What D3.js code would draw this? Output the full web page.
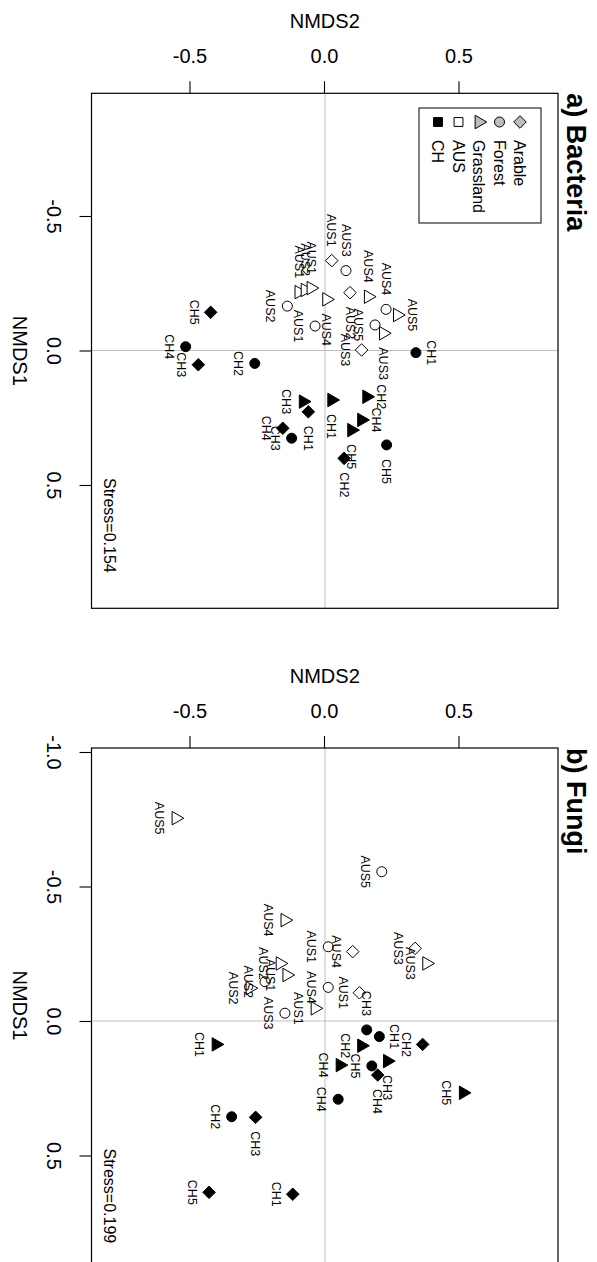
<!DOCTYPE html>
<html>
<head>
<meta charset="utf-8">
<script src="https://cdn.jsdelivr.net/npm/d3@7"></script>
<style>
  body { margin: 0; background: #fff; }
  svg { display: block; }
  text { font-family: "Liberation Sans", Arial, Helvetica, sans-serif; fill: #000; }
</style>
</head>
<body>
<svg id="chart" width="597" height="1262"></svg>
<script>
// ---- Bacteria ordination scores ----
const bacLand   = ["Arable","Arable","Arable","Forest","Forest","Forest","Forest","Forest",
                   "Grassland","Grassland","Grassland","Grassland","Grassland","Grassland","Grassland",
                   "Arable","Arable","Arable","Arable","Arable","Forest","Forest","Forest","Forest","Forest",
                   "Grassland","Grassland","Grassland","Grassland","Grassland"];
const bacRegion = ["AUS","AUS","AUS","AUS","AUS","AUS","AUS","AUS","AUS","AUS","AUS","AUS","AUS","AUS","AUS",
                   "CH","CH","CH","CH","CH","CH","CH","CH","CH","CH","CH","CH","CH","CH","CH"];
const bacSite   = ["AUS1","AUS2","AUS3","AUS1","AUS2","AUS3","AUS4","AUS5",
                   "AUS1","AUS2","AUS1","AUS4","AUS4","AUS5","AUS3",
                   "CH1","CH2","CH3","CH4","CH5","CH1","CH2","CH3","CH4","CH5",
                   "CH1","CH2","CH3","CH4","CH5"];
const bacNMDS1  = [-0.334,-0.215,-0.002,-0.091,-0.165,-0.297,-0.153,-0.095,
                   -0.217,-0.225,-0.232,-0.190,-0.200,-0.132,-0.064,
                    0.228, 0.401, 0.053, 0.289,-0.142, 0.008, 0.048, 0.326,-0.014, 0.351,
                    0.184, 0.172, 0.190, 0.258, 0.296];
const bacNMDS2  = [ 0.025, 0.093, 0.136,-0.037,-0.140, 0.078, 0.227, 0.186,
                   -0.097,-0.074,-0.052, 0.006, 0.161, 0.269, 0.217,
                   -0.062, 0.071,-0.471,-0.157,-0.425, 0.338,-0.261,-0.124,-0.518, 0.229,
                    0.025, 0.155,-0.081, 0.136, 0.099];
// side of each point its name is written on (1 below, 2 left, 3 above, 4 right)
const bacLabelPos = [2,4,1,1,1,2,2,1, 2,2,2,4,2,3,4, 4,4,1,1,1,3,1,1,1,4, 4,3,1,3,4];

// ---- Fungi ordination scores ----
const funLand   = ["Arable","Arable","Arable","Forest","Forest","Forest","Forest","Forest",
                   "Grassland","Grassland","Grassland","Grassland","Grassland","Grassland","Grassland",
                   "Arable","Arable","Arable","Arable","Arable","Forest","Forest","Forest","Forest","Forest",
                   "Grassland","Grassland","Grassland","Grassland","Grassland"];
const funRegion = bacRegion.slice();
const funSite   = ["AUS1","AUS3","AUS4","AUS1","AUS2","AUS3","AUS4","AUS5",
                   "AUS1","AUS2","AUS1","AUS2","AUS3","AUS4","AUS5",
                   "CH1","CH2","CH3","CH4","CH5","CH1","CH2","CH3","CH4","CH5",
                   "CH1","CH2","CH3","CH4","CH5"];
const funNMDS1  = [-0.105,-0.270,-0.258,-0.276,-0.146,-0.029,-0.125,-0.555,
                   -0.047,-0.214,-0.171,-0.122,-0.214,-0.375,-0.754,
                    0.644, 0.087, 0.358, 0.201, 0.637, 0.058, 0.356, 0.033, 0.291, 0.167,
                    0.087, 0.092, 0.149, 0.164, 0.267];
const funNMDS2  = [ 0.128, 0.335, 0.103, 0.012,-0.223,-0.149, 0.012, 0.211,
                   -0.037,-0.167,-0.142,-0.279, 0.378,-0.149,-0.554,
                   -0.120, 0.363,-0.258, 0.196,-0.431, 0.202,-0.347, 0.155, 0.049, 0.174,
                   -0.405, 0.136, 0.232, 0.056, 0.514];
const funLabelPos = [1,1,1,1,1,1,1,1, 1,1,1,1,1,1,1, 1,1,4,4,1,3,1,2,1,1, 1,1,4,1,1];

// ---- axes and legend ----
const nmds2Ticks = [-0.5, 0, 0.5];
const nmds2TickLabels = ["-0.5", "0.0", "0.5"];
const bacNmds1Ticks = [-0.5, 0, 0.5];
const bacNmds1TickLabels = ["-0.5", "0.0", "0.5"];
const funNmds1Ticks = [-1, -0.5, 0, 0.5];
const funNmds1TickLabels = ["-1.0", "-0.5", "0.0", "0.5"];
const landUses = ["Arable", "Forest", "Grassland"];
const regions = ["AUS", "CH"];

// ---- layout (landscape frame, turned a quarter clockwise on the page) ----
const pageW = 597, pageH = 1262;
const unit = 269;                  // pixels per NMDS unit on both axes
const plotW = 515;                 // length of the NMDS1 side of each box
const boxTop = 39, boxBottom = 505.5, nmds2Zero = 272;
const GREY = "#bebebe";
const font = '"Liberation Sans", Arial, Helvetica, sans-serif';

const svg = d3.select("#chart");
svg.append("rect").attr("width", pageW).attr("height", pageH).attr("fill", "#fff");
const root = svg.append("g").attr("transform", `translate(${pageW},0) rotate(90)`);

const panels = [
  { title: "a) Bacteria", stress: "Stress=0.154", left: 93.3, zero: 350.5,
    ticks1: bacNmds1Ticks, tickLabels1: bacNmds1TickLabels, legend: true,
    land: bacLand, region: bacRegion, site: bacSite, n1: bacNMDS1, n2: bacNMDS2, pos: bacLabelPos },
  { title: "b) Fungi", stress: "Stress=0.199", left: 748, zero: 1021,
    ticks1: funNmds1Ticks, tickLabels1: funNmds1TickLabels, legend: false,
    land: funLand, region: funRegion, site: funSite, n1: funNMDS1, n2: funNMDS2, pos: funLabelPos }
];

// R-style symbol outlines (circle 21, square 22, diamond 23, triangle 24), radius R
const R = 5;
function symbolPath(shape, cx, cy, r) {
  if (shape === "Forest") {
    return `M${cx + r},${cy}A${r},${r} 0 1,1 ${cx - r},${cy}A${r},${r} 0 1,1 ${cx + r},${cy}Z`;
  }
  if (shape === "Arable") {
    const d = 1.2533 * r;
    return `M${cx},${cy - d}L${cx + d},${cy}L${cx},${cy + d}L${cx - d},${cy}Z`;
  }
  if (shape === "Grassland") {
    const t = 1.5551 * r, h = 1.3468 * r, b = 0.7776 * r;
    return `M${cx},${cy - t}L${cx + h},${cy + b}L${cx - h},${cy + b}Z`;
  }
  const s = 0.886 * r;
  return `M${cx - s},${cy - s}H${cx + s}V${cy + s}H${cx - s}Z`;
}

panels.forEach(p => {
  const x = d3.scaleLinear()
    .domain([(p.left - p.zero) / unit, (p.left + plotW - p.zero) / unit])
    .range([p.left, p.left + plotW]);
  const y = d3.scaleLinear()
    .domain([(nmds2Zero - boxBottom) / unit, (nmds2Zero - boxTop) / unit])
    .range([boxBottom, boxTop]);
  const g = root.append("g");

  // zero reference lines
  g.append("line").attr("x1", x(0)).attr("x2", x(0)).attr("y1", boxTop).attr("y2", boxBottom)
    .attr("stroke", GREY).attr("stroke-width", 1);
  g.append("line").attr("x1", p.left).attr("x2", p.left + plotW).attr("y1", y(0)).attr("y2", y(0))
    .attr("stroke", GREY).attr("stroke-width", 1);

  // NMDS1 axis
  const ax1 = g.append("g").attr("transform", `translate(0,${boxBottom})`)
    .call(d3.axisBottom(x).tickValues(p.ticks1).tickFormat((d, i) => p.tickLabels1[i])
      .tickSize(12).tickPadding(18));
  ax1.select(".domain").remove();
  ax1.selectAll(".tick line").attr("stroke", "#000").attr("stroke-width", 1.1);
  ax1.selectAll(".tick text").attr("font-size", 20).attr("font-family", font);

  // NMDS2 axis
  const ax2 = g.append("g").attr("transform", `translate(${p.left},0)`)
    .call(d3.axisLeft(y).tickValues(nmds2Ticks).tickFormat((d, i) => nmds2TickLabels[i]).tickSize(12));
  ax2.select(".domain").remove();
  ax2.selectAll(".tick line").attr("stroke", "#000").attr("stroke-width", 1.1);
  ax2.selectAll(".tick text").attr("font-size", 20).attr("font-family", font)
    .attr("x", 0).attr("dy", "0.35em").attr("text-anchor", "middle")
    .attr("transform", "translate(-37,0) rotate(-90)");

  // axis titles
  g.append("text").attr("x", p.left + plotW / 2).attr("y", boxBottom + 72).attr("dy", "0.35em")
    .attr("text-anchor", "middle").attr("font-size", 20).text("NMDS1");
  g.append("text").attr("transform", `translate(${p.left - 72},${(boxTop + boxBottom) / 2}) rotate(-90)`)
    .attr("dy", "0.35em").attr("text-anchor", "middle").attr("font-size", 20).text("NMDS2");

  // panel title
  g.append("text").attr("x", p.left).attr("y", 30).attr("font-size", 27).attr("font-weight", "bold")
    .text(p.title);

  // points
  const idx = d3.range(p.n1.length);
  g.append("g").selectAll("path").data(idx).join("path")
    .attr("d", i => symbolPath(p.land[i], x(p.n1[i]), y(p.n2[i]), R))
    .attr("fill", i => p.region[i] === "CH" ? "#000" : "#fff")
    .attr("stroke", "#000").attr("stroke-width", 1);

  // point names
  g.append("g").selectAll("text").data(idx).join("text")
    .attr("font-size", 12.5)
    .attr("x", i => x(p.n1[i]) + (p.pos[i] === 2 ? -14 : p.pos[i] === 4 ? 14 : 0))
    .attr("y", i => y(p.n2[i]) + (p.pos[i] === 1 ? 16.5 : p.pos[i] === 3 ? -15 : 0))
    .attr("dy", "0.35em")
    .attr("text-anchor", i => p.pos[i] === 2 ? "end" : p.pos[i] === 4 ? "start" : "middle")
    .text(i => p.site[i]);

  // stress value
  g.append("text").attr("x", x(0.65)).attr("y", y(-0.8)).attr("dy", "0.35em")
    .attr("text-anchor", "middle").attr("font-size", 16).text(p.stress);

  // frame
  g.append("rect").attr("x", p.left).attr("y", boxTop).attr("width", plotW)
    .attr("height", boxBottom - boxTop).attr("fill", "none").attr("stroke", "#000").attr("stroke-width", 1.2);

  // legend
  if (p.legend) {
    const lg = g.append("g");
    lg.append("rect").attr("x", 108).attr("y", 56).attr("width", 115).attr("height", 122)
      .attr("fill", "#fff").attr("stroke", "#000").attr("stroke-width", 1);
    const rowY = i => 77 + i * 20.5;
    landUses.forEach((lu, i) => {
      lg.append("path").attr("d", symbolPath(lu, 122, rowY(i), R))
        .attr("fill", GREY).attr("stroke", "#000").attr("stroke-width", 1);
      lg.append("text").attr("x", 140).attr("y", rowY(i)).attr("dy", "0.35em")
        .attr("font-size", 16).text(lu);
    });
    regions.forEach((rg, j) => {
      const i = landUses.length + j;
      lg.append("path").attr("d", symbolPath("square", 122, rowY(i), R))
        .attr("fill", rg === "CH" ? "#000" : "#fff").attr("stroke", "#000").attr("stroke-width", 1);
      lg.append("text").attr("x", 140).attr("y", rowY(i)).attr("dy", "0.35em")
        .attr("font-size", 16).text(rg);
    });
  }
});
</script>
</body>
</html>
